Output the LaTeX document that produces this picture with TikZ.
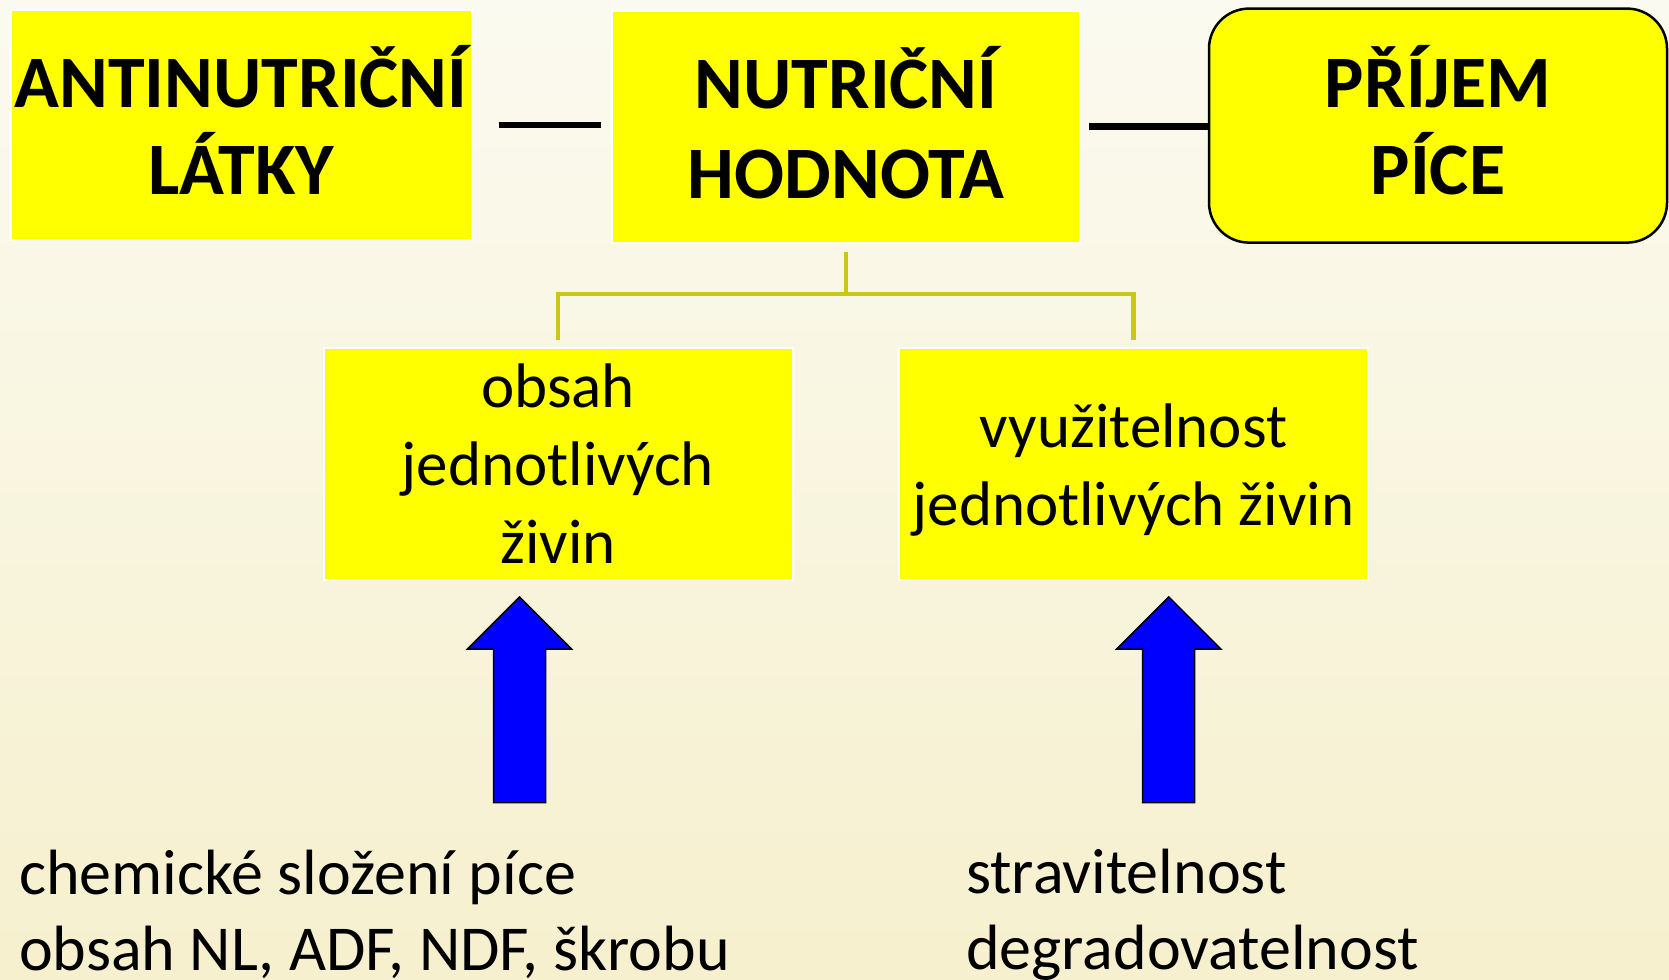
\documentclass[tikz,border=0pt]{standalone}
\usepackage{fontspec}
\setmainfont{Carlito}
\usetikzlibrary{calc}
\definecolor{bgtop}{RGB}{251,250,240}
\definecolor{bgbot}{RGB}{246,240,206}
\definecolor{olivel}{RGB}{204,198,20}
\definecolor{yel}{RGB}{255,255,0}
\definecolor{arrblue}{RGB}{0,0,255}
\tikzset{
  headbox/.style={fill=yel, draw=white, line width=2pt, inner sep=0pt},
  headtext/.style={align=center, inner sep=0pt, font=\fontsize{74}{87}\selectfont\bfseries},
  subbox/.style={fill=yel, draw=white, line width=2pt, inner sep=0pt},
  subtext/.style={align=center, inner sep=0pt, font=\fontsize{63}{78}\selectfont},
  blackline/.style={line width=6.4pt, black},
  oliveline/.style={line width=4.3pt, olivel},
  blockarrow/.style={fill=arrblue, draw=black, line width=1.5pt, line join=miter},
  bottomtext/.style={inner sep=0pt, align=left, anchor=base west,
     font=\fontsize{64}{76}\selectfont}
}
\begin{document}
\begin{tikzpicture}[x=1pt,y=-1pt]
\useasboundingbox (0,0) rectangle (1669,979);
\shade[top color=bgtop, bottom color=bgbot] (0,0) rectangle (1669,979);

\node[headbox, minimum width=461pt, minimum height=229pt,
      label={[headtext, yshift=5pt]center:ANTINUTRIČNÍ\\LÁTKY}] (anti) at (241,125) {};
\node[headbox, minimum width=468pt, minimum height=232pt,
      label={[headtext, yshift=4pt, font=\fontsize{74}{90}\selectfont\bfseries]center:NUTRIČNÍ\\HODNOTA}] (nut) at (846,126.6) {};
\node[headbox, draw=black, line width=2.5pt, rounded corners=40pt,
      minimum width=458pt, minimum height=234pt,
      label={[headtext, yshift=5pt]center:PŘÍJEM\\PÍCE}] (pri) at (1438,125.6) {};

\node[subbox, minimum width=469pt, minimum height=232pt,
      label={[subtext]center:obsah\\jednotlivých\\živin}] (obs) at (558,464) {};
\node[subbox, minimum width=469pt, minimum height=232pt,
      label={[subtext, yshift=-6pt]center:využitelnost\\jednotlivých živin}] (vyu) at (1133.5,464) {};

\draw[blackline, shorten <=26pt, shorten >=10pt] (anti.east) -- (anti.east -| nut.west);
\draw[blackline, shorten <=8pt] (nut.east) -- (nut.east -| pri.west);

\coordinate (junc) at (846,295);
\draw[oliveline, shorten <=8pt] (nut.south) -- (junc);
\draw[oliveline, shorten <=7pt, shorten >=7pt] (obs.north) -- ++(0,-53) -| (vyu.north);

% block arrows
\draw[blockarrow] (519.5,597) -- (571.5,649) -- (545.5,649) -- (545.5,802.6) -- (493.5,802.6) -- (493.5,649) -- (467.5,649) -- cycle;
\draw[blockarrow] (1168.7,597) -- (1220.7,649) -- (1194.7,649) -- (1194.7,802.6) -- (1142.7,802.6) -- (1142.7,649) -- (1116.7,649) -- cycle;

\node[bottomtext] (chem) at (19,970) {chemické složení píce\\obsah NL, ADF, NDF, škrobu};
\node[bottomtext] (strav) at (966,969) {stravitelnost\\degradovatelnost};
\end{tikzpicture}
\end{document}
